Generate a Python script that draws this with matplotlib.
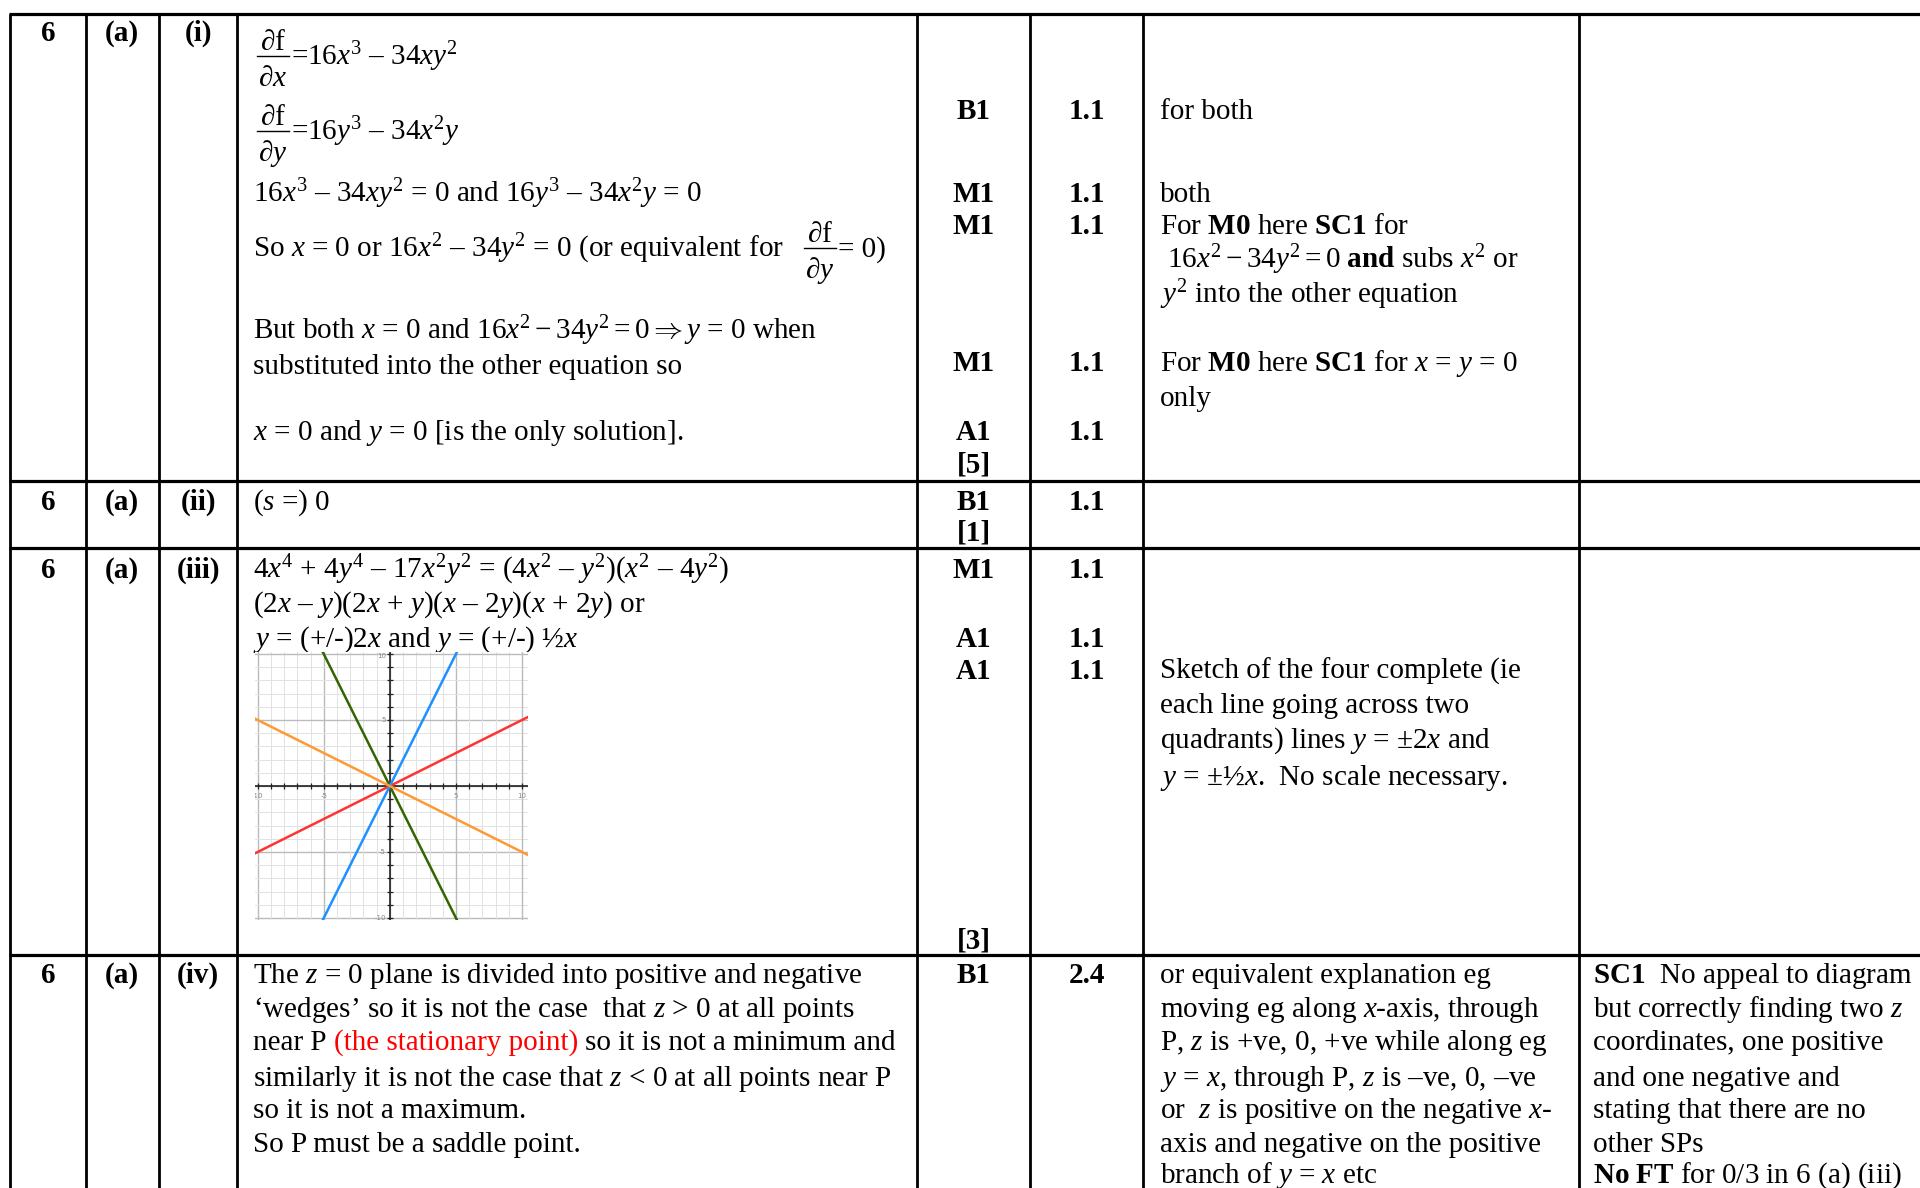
import numpy as np
import matplotlib
matplotlib.use("Agg")
import matplotlib.pyplot as plt

plt.rcParams['font.family'] = ['Liberation Serif', 'DejaVu Serif']
plt.rcParams['mathtext.fontset'] = 'custom'
plt.rcParams['mathtext.rm'] = 'Liberation Serif'
plt.rcParams['mathtext.it'] = 'Liberation Serif:italic'
plt.rcParams['mathtext.bf'] = 'Liberation Serif:bold'

FS = 21

# table grid (pixel positions of the ruled lines)
col_lines = [10, 86, 159, 237, 917, 1030, 1143, 1579]
row_lines = [14, 481, 548, 955]

# row labels
q_labels = ["6", "6", "6", "6"]
part_labels = ["(a)", "(a)", "(a)", "(a)"]
sub_labels = ["(i)", "(ii)", "(iii)", "(iv)"]
label_y = [41, 510, 578, 983]

# partial derivative fractions: (bar y, bar x0, bar x1, denominator variable, text after, text x)
fracs = [
    (56, 257, 289, "x", r"=16$x^3$ – 34$xy^2$", 291),
    (131, 257, 289, "y", r"=16$y^3$ – 34$x^2y$", 291),
    (248, 804, 836, "y", "= 0)", 838),
]

# answer column
ans1 = [
    (202, r"16$x^3$ – 34$xy^2$ = 0 and 16$y^3$ – 34$x^2y$ = 0"),
    (257, r"So $x$ = 0 or 16$x^2$ – 34$y^2$ = 0 (or equivalent for"),
    (339, r"But both $x$ = 0 and $16x^2 - 34y^2 = 0 \Rightarrow y$ = 0 when"),
    (374, "substituted into the other equation so"),
    (440, r"$x$ = 0 and $y$ = 0 [is the only solution]."),
]
ans2 = [(510, r"($s$ =) 0")]
ans3 = [
    (578, r"4$x^4$ + 4$y^4$ – 17$x^2y^2$ = (4$x^2$ – $y^2$)($x^2$ – 4$y^2$)"),
    (612, r"(2$x$ – $y$)(2$x$ + $y$)($x$ – 2$y$)($x$ + 2$y$) or"),
    (647, r"$y$ = (+/-)2$x$ and $y$ = (+/-) ½$x$"),
]
ans4 = [
    (983, r"The $z$ = 0 plane is divided into positive and negative"),
    (1017, r"‘wedges’ so it is not the case  that $z$ > 0 at all points"),
    (1086, r"similarly it is not the case that $z$ < 0 at all points near P"),
    (1118, "so it is not a maximum."),
    (1152, "So P must be a saddle point."),
]
ans4_red_line = (1050, "near P", "(the stationary point)", "so it is not a minimum and")

# marks and AO columns
marks = [(119, "B1", "1.1"), (202, "M1", "1.1"), (234, "M1", "1.1"), (371, "M1", "1.1"),
         (440, "A1", "1.1"), (473, "[5]", ""),
         (510, "B1", "1.1"), (541, "[1]", ""),
         (578, "M1", "1.1"), (647, "A1", "1.1"), (679, "A1", "1.1"), (948, "[3]", ""),
         (983, "B1", "2.4")]

# guidance column
guide = [
    (119, "for both"),
    (202, "both"),
    (234, r"For $\mathbf{M0}$ here $\mathbf{SC1}$ for"),
    (268, r" $16x^2 - 34y^2 = 0$ $\mathbf{and}$ subs $x^2$ or"),
    (303, r"$y^2$ into the other equation"),
    (371, r"For $\mathbf{M0}$ here $\mathbf{SC1}$ for $x$ = $y$ = 0"),
    (406, "only"),
    (679, "Sketch of the four complete (ie"),
    (713, "each line going across two"),
    (748, r"quadrants) lines $y$ = ±2$x$ and"),
    (785, r"$y$ = ±½$x$.  No scale necessary."),
    (983, "or equivalent explanation eg"),
    (1017, r"moving eg along $x$-axis, through"),
    (1050, r"P, $z$ is +ve, 0, +ve while along eg"),
    (1086, r"$y$ = $x$, through P, $z$ is –ve, 0, –ve"),
    (1118, r"or  $z$ is positive on the negative $x$-"),
    (1152, "axis and negative on the positive"),
    (1183, r"branch of $y$ = $x$ etc"),
]
extra = [
    (983, r"$\mathbf{SC1}$  No appeal to diagram"),
    (1017, r"but correctly finding two $z$"),
    (1050, "coordinates, one positive"),
    (1086, "and one negative and"),
    (1118, "stating that there are no"),
    (1152, "other SPs"),
    (1183, r"$\mathbf{No\ FT}$ for 0/3 in 6 (a) (iii)"),
]

# sketch lines y = m x
slopes = [0.5, -2, 2, -0.5]
line_colors = ['#ff3333', '#336600', '#1e90ff', '#ff9933']
x_ends = np.array([-11, 11])
tick_vals = [-10, -5, 5, 10]

fig = plt.figure(figsize=(19.2, 11.88), dpi=100)
ax = fig.add_axes([0, 0, 1, 1])
ax.set_xlim(0, 1920)
ax.set_ylim(1188, 0)
ax.axis('off')

for x in col_lines:
    ax.plot([x, x], [row_lines[0], 1188], color='black', lw=2.0, solid_capstyle='butt')
for y in row_lines:
    ax.plot([col_lines[0] - 1, 1920], [y, y], color='black', lw=2.3, solid_capstyle='butt')

for i in range(4):
    ax.text(48, label_y[i], q_labels[i], fontsize=FS, fontweight='bold', ha='center', va='baseline')
    ax.text(122, label_y[i], part_labels[i], fontsize=FS, fontweight='bold', ha='center', va='baseline')
    ax.text(198, label_y[i], sub_labels[i], fontsize=FS, fontweight='bold', ha='center', va='baseline')

# fractions drawn as numerator / bar / denominator
for ybar, x0, x1, var, after, xa in fracs:
    xc = (x0 + x1) / 2
    ax.plot([x0, x1], [ybar, ybar], color='black', lw=1.0)
    ax.text(xc, ybar - 6, r"$\partial\mathrm{f}$", fontsize=FS, ha='center', va='baseline')
    ax.text(xc, ybar + 30, r"$\partial " + var + "$", fontsize=FS, ha='center', va='baseline')
    ax.text(xa, ybar + 9, after, fontsize=FS, va='baseline')

for y, s in ans1 + ans2 + ans3 + ans4:
    ax.text(253, y, s, fontsize=FS, va='baseline')

y, a, b, c = ans4_red_line
t1 = ax.text(253, y, a, fontsize=FS, va='baseline')
t2 = ax.annotate(b, xy=(1, 0), xycoords=t1, xytext=(7, 0), textcoords='offset pixels',
                 fontsize=FS, color='#ff0000', va='bottom')
ax.annotate(c, xy=(1, 0), xycoords=t2, xytext=(7, 0), textcoords='offset pixels',
            fontsize=FS, va='bottom')

for y, m, ao in marks:
    ax.text(974, y, m, fontsize=FS, fontweight='bold', ha='center', va='baseline')
    if ao:
        ax.text(1087, y, ao, fontsize=FS, fontweight='bold', ha='center', va='baseline')

for y, s in guide:
    ax.text(1160, y, s, fontsize=FS, va='baseline')
for y, s in extra:
    ax.text(1593, y, s, fontsize=FS, va='baseline')

# small sketch of the four lines
W, H = 1920, 1188
left, right, top, bottom = 255, 528, 652, 920
axs = fig.add_axes([left / W, 1 - bottom / H, (right - left) / W, (bottom - top) / H])
axs.set_xlim(-10.2, 10.45)
axs.set_ylim(-10.15, 10.15)
for v in np.arange(-10, 11):
    c = '#bbbbbb' if v % 5 == 0 else '#e2e2e2'
    lw = 1.0 if v % 5 == 0 else 0.7
    axs.axvline(v, color=c, lw=lw, zorder=0)
    axs.axhline(v, color=c, lw=lw, zorder=0)
axs.axhline(0, color='#222222', lw=1.2, zorder=1)
axs.axvline(0, color='#222222', lw=1.2, zorder=1)
ticks = np.arange(-10, 11)
axs.plot(ticks, np.zeros_like(ticks), ls='none', marker='|', ms=4, mew=0.9, color='#222222', zorder=1)
axs.plot(np.zeros_like(ticks), ticks, ls='none', marker='_', ms=4, mew=0.9, color='#222222', zorder=1)
for m, col in zip(slopes, line_colors):
    axs.plot(x_ends, m * x_ends, color=col, lw=1.8, zorder=2)
tick_font = dict(fontsize=5, color='#888888', family='DejaVu Sans')
for v in tick_vals:
    axs.text(v, -0.5, str(v), ha='center', va='top', clip_on=True, **tick_font)
    if v == 10:
        axs.text(-0.3, 10.1, str(v), ha='right', va='top', clip_on=True, **tick_font)
    else:
        axs.text(-0.3, v, str(v), ha='right', va='center', clip_on=True, **tick_font)
axs.set_xticks([])
axs.set_yticks([])
for sp in axs.spines.values():
    sp.set_visible(False)

fig.savefig('out.png', dpi=100)
